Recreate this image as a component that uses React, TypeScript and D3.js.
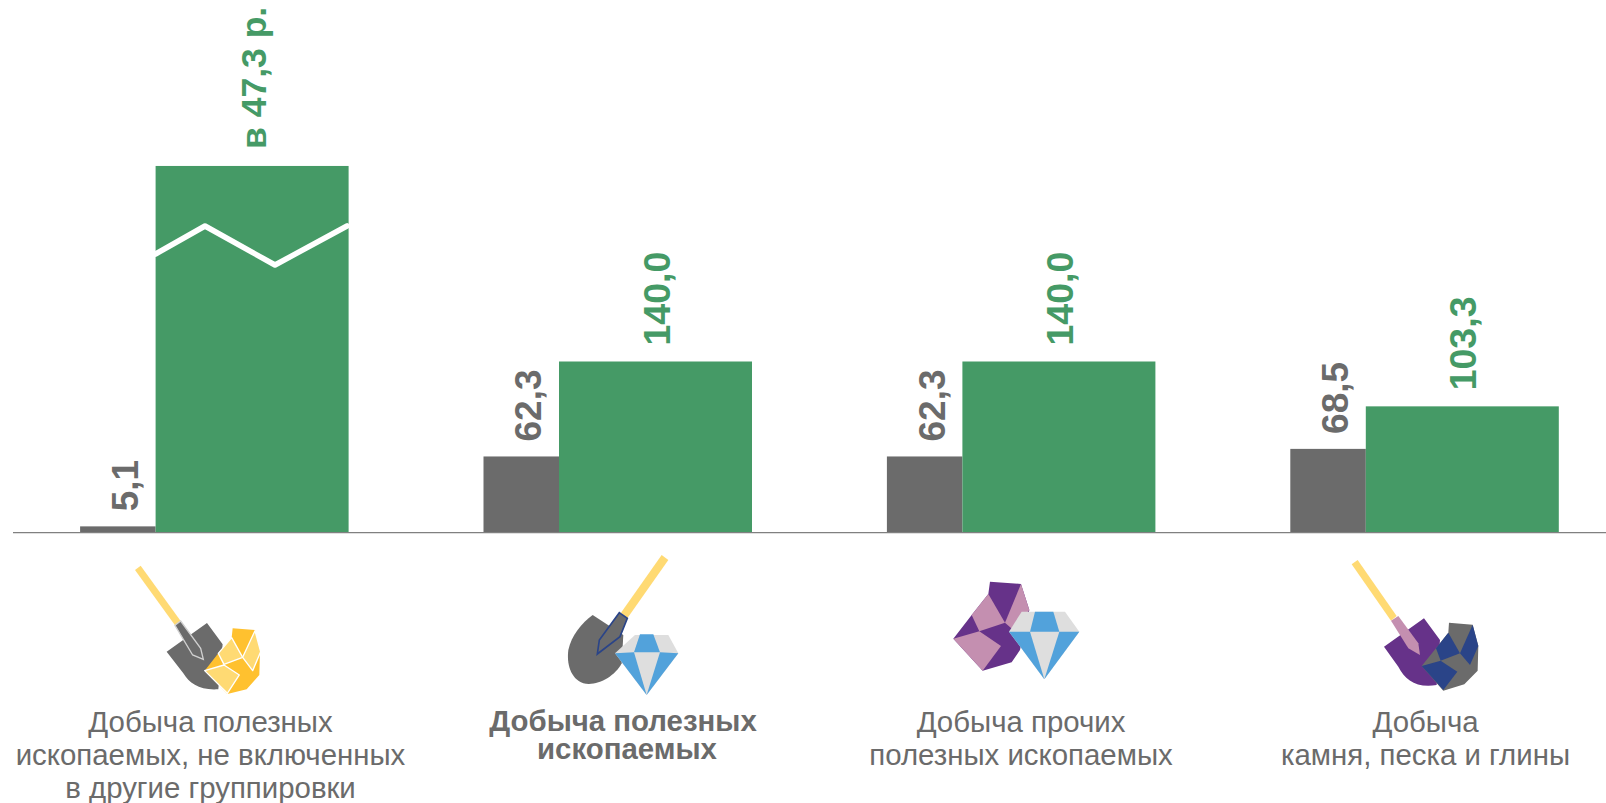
import React from "react";
import * as d3 from "d3";

const categories = ["mineralsOther", "minerals", "otherMinerals", "stone"];
const greyValues = [5.1, 62.3, 62.3, 68.5];
const greyLabels = ["5,1", "62,3", "62,3", "68,5"];
const greenValues = [300, 140, 140, 103.3];
const greenLabels = ["в 47,3 р.", "140,0", "140,0", "103,3"];
const categoryLines = [
  ["Добыча полезных", "ископаемых, не включенных", "в другие группировки"],
  ["Добыча полезных", "ископаемых"],
  ["Добыча прочих", "полезных ископаемых"],
  ["Добыча", "камня, песка и глины"],
];
const boldCategory = [false, true, false, false];
const categoryCenters = [210.5, 623, 1021, 1425.5];

const GREEN = "#459A66";
const GREY = "#6B6B6B";
const YEL = "#FFDA73";
const GOLD = "#FFC12F";
const PURPLE = "#663289";
const PINK = "#C48FB0";
const BLUE = "#52A2DB";
const LGREY = "#DEDEDE";
const NAVY = "#2A4488";

const Poly = (p: { d: string; f: string; s?: string; w?: number }) => (
  <polygon points={p.d} fill={p.f} stroke={p.s ?? "none"} strokeWidth={p.w ?? 0} strokeLinejoin="round" />
);

const Diamond = ({ pts }: { pts: string[] }) => (
  <>
    <Poly d={pts[0]} f={LGREY} />
    <Poly d={pts[1]} f={BLUE} />
    <Poly d={pts[2]} f={BLUE} />
    <Poly d={pts[3]} f={BLUE} />
  </>
);

const icons = [
  <g transform="translate(100,540) scale(0.3333)" key="a">
    <Poly d="105,90 122,77 242,243 225,256" f={YEL} />
    <path d="M200,335 L321,249 L368,313 L355,448 C300,452 268,430 250,400 Z" fill={GREY} />
    <polygon points="225,256 242,243 302,325 310,358 278,345" fill={GREY} stroke="#D0D0D0" strokeWidth={4} />
    <Poly d="398,265 465,270 480,335 478,405 440,448 382,462 314,392 355,340 395,293" f={GOLD} />
    <Poly d="355,340 395,293 428,352 372,373" f={YEL} s="#fff" w={4} />
    <Poly d="314,392 372,375 418,405 382,460" f={YEL} s="#fff" w={4} />
    <Poly d="465,272 482,335 458,392 428,352" f={YEL} s="#fff" w={4} />
  </g>,
  <g transform="translate(540,540) scale(0.3333)" key="b">
    <Poly d="365,45 385,60 262,235 243,218" f={YEL} />
    <path d="M158,225 L250,285 L245,370 C225,410 170,440 130,430 C90,415 80,370 85,330 C95,285 125,250 158,225 Z" fill={GREY} />
    <polygon points="238,218 262,235 240,290 172,342 178,300" fill={GREY} stroke={NAVY} strokeWidth={5} />
    <Diamond pts={["285,285 385,285 415,340 320,465 225,340", "300,283 340,283 360,337 282,337", "225,340 282,337 320,465", "360,337 415,340 320,465"]} />
  </g>,
  <g transform="translate(930,560) scale(0.3333)" key="c">
    <Poly d="180,65 273,72 298,150 270,270 245,307 158,332 70,236 125,165 175,102" f={PURPLE} />
    <Poly d="175,102 225,188 148,214 125,165" f={PINK} />
    <Poly d="70,236 148,214 213,258 158,332" f={PINK} />
    <Poly d="273,72 298,150 250,210 225,188" f={PINK} />
    <Diamond pts={["275,155 405,155 448,215 343,358 237,215", "315,155 370,155 388,215 300,215", "237,215 300,215 343,358", "388,215 448,215 343,358"]} />
  </g>,
  <g transform="translate(1330,550) scale(0.3333)" key="d">
    <Poly d="65,43 83,30 200,198 183,212" f={YEL} />
    <path d="M162,290 L282,205 L330,270 L320,405 C260,415 225,390 205,350 Z" fill={PURPLE} />
    <Poly d="183,212 205,198 265,280 270,315 235,295" f={PINK} />
    <Poly d="357,218 428,224 445,288 443,362 403,403 340,422 275,348 318,295 355,248" f={GREY} />
    <Poly d="355,248 390,310 332,332 318,295" f={NAVY} />
    <Poly d="275,348 332,332 382,365 340,420" f={NAVY} />
    <Poly d="428,224 445,288 420,345 390,310" f={NAVY} />
  </g>,
];

const FONT = "'Liberation Sans', Arial, sans-serif";

export default function App() {
  const x = d3.scaleBand<string>().domain(categories).range([-46.1, 1567.5]);
  const y = d3.scaleLinear().domain([0, 140]).range([532.6, 361.5]);
  const center = (c: string) => (x(c) as number) + x.bandwidth() / 2;
  const greyW = 75.5;
  const greenW = 193;
  const breakLine = d3.line()([
    [155.6, 254],
    [205, 226],
    [275, 265],
    [347, 226],
  ]) as string;

  return (
    <svg width={1606} height={803} style={{ position: "absolute", left: 0, top: 0, display: "block", background: "#fff" }} fontFamily={FONT}>
      {categories.map((c, i) => {
        const b = center(c);
        const broken = i === 0;
        return (
          <g key={c}>
            <rect x={b - greyW} y={y(greyValues[i])} width={greyW} height={y(0) - y(greyValues[i])} fill={GREY} />
            <rect x={b} y={y(greenValues[i])} width={greenW} height={y(0) - y(greenValues[i])} fill={GREEN} />
            <text
              transform={`translate(${b - 17.8},${y(greyValues[i]) - 15}) rotate(-90)`}
              fontSize={37}
              fontWeight="bold"
              fill={GREY}
            >
              {greyLabels[i]}
            </text>
            <text
              transform={`translate(${b + (broken ? 110.5 : 110.5)},${y(greenValues[i]) - (broken ? 17 : 16)}) rotate(-90)`}
              fontSize={broken ? 35.5 : 37.5}
              fontWeight="bold"
              fill={GREEN}
            >
              {greenLabels[i]}
            </text>
          </g>
        );
      })}
      <path d={breakLine} fill="none" stroke="#fff" strokeWidth={5.5} strokeLinecap="round" strokeLinejoin="round" />
      <line x1={13} x2={1606} y1={532.6} y2={532.6} stroke="#808080" strokeWidth={1.2} />
      {icons}
      {categories.map((c, i) =>
        categoryLines[i].map((t, j) => (
          <text
            key={t + j}
            x={categoryCenters[i] + (boldCategory[i] && j === 1 ? 4 : 0)}
            y={boldCategory[i] ? 731 + j * 28 : 732 + j * 33}
            textAnchor="middle"
            fontSize={29.4}
            fontWeight={boldCategory[i] ? "bold" : "normal"}
            fill={GREY}
          >
            {t}
          </text>
        ))
      )}
    </svg>
  );
}
